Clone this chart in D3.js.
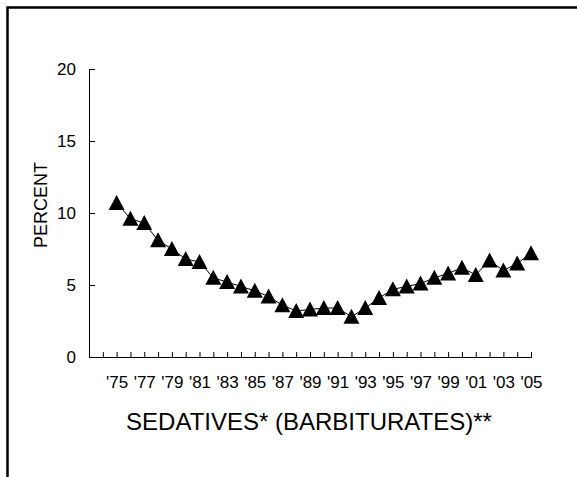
<!DOCTYPE html>
<html>
<head>
<meta charset="utf-8">
<script src="https://cdn.jsdelivr.net/npm/d3@7"></script>
<style>
  body { margin: 0; background: #fff; }
  text { font-family: "Liberation Sans", Arial, sans-serif; fill: #000; }
</style>
</head>
<body>
<div id="chart"></div>
<script>
// data: annual prevalence, sedatives (barbiturates)
const years = d3.range(1975, 2006)
const values = [10.7, 9.6, 9.3, 8.1, 7.5, 6.8, 6.6, 5.5, 5.2, 4.9, 4.6, 4.2, 3.6, 3.2, 3.3, 3.4,
                3.4, 2.8, 3.4, 4.1, 4.7, 4.9, 5.1, 5.5, 5.8, 6.2, 5.7, 6.7, 6.0, 6.5, 7.2]
const axisYears = d3.range(1973, 2006)
const labelYears = d3.range(1975, 2006, 2)
const yTicks = [0, 5, 10, 15, 20]
const title = 'SEDATIVES* (BARBITURATES)**'
const yTitle = 'PERCENT'

const data = years.map((y, i) => ({ year: y, value: values[i] }))

// dimensions
let dimensions = {
    width: 577,
    height: 477,
    margin: { top: 69, right: 46, bottom: 120, left: 89 },
}
dimensions.innerWidth = dimensions.width - dimensions.margin.left - dimensions.margin.right
dimensions.innerHeight = dimensions.height - dimensions.margin.top - dimensions.margin.bottom

const outer = d3.select('#chart')
    .append('svg')
        .attr('width', dimensions.width)
        .attr('height', dimensions.height)

// frame (only top and left edges fall inside the picture)
outer.append('rect')
    .attr('x', 7.5)
    .attr('y', 7.5)
    .attr('width', 620)
    .attr('height', 520)
    .attr('fill', 'none')
    .attr('stroke', '#000')
    .attr('stroke-width', 2.5)

const inner = outer.append('g')
    .attr('transform', `translate(${dimensions.margin.left}, ${dimensions.margin.top})`)

// scales
const xScale = d3.scaleLinear()
    .domain(d3.extent(axisYears))
    .range([0, dimensions.innerWidth])

const yScale = d3.scaleLinear()
    .domain([0, 20])
    .range([dimensions.innerHeight, 0])

// axes
const xAxis = d3.axisBottom(xScale)
    .tickValues(axisYears)
    .tickSize(-5)
    .tickPadding(19)
    .tickFormat(d => labelYears.includes(d) ? "'" + String(d).slice(2) : '')

const xAxisGroup = inner.append('g')
    .attr('transform', `translate(0, ${dimensions.innerHeight})`)
    .call(xAxis)
xAxisGroup.attr('font-size', null).attr('font-family', null)
xAxisGroup.selectAll('text')
    .style('font-size', '17px')
    .attr('fill', '#000')

const yAxis = d3.axisLeft(yScale)
    .tickValues(yTicks)
    .tickSize(-6)
    .tickPadding(13)

const yAxisGroup = inner.append('g')
    .call(yAxis)
yAxisGroup.attr('font-size', null).attr('font-family', null)
yAxisGroup.selectAll('text')
    .style('font-size', '17px')
    .attr('fill', '#000')

inner.selectAll('.domain, .tick line').attr('stroke', '#000').attr('stroke-width', 1)

// line
const lineGenerator = d3.line()
    .x(d => xScale(d.year))
    .y(d => yScale(d.value))

inner.append('path')
    .attr('d', lineGenerator(data))
    .attr('fill', 'none')
    .attr('stroke', '#000')
    .attr('stroke-width', 1)

// triangle markers (centred on their bounding box)
const half = 8
inner.selectAll('.marker')
    .data(data)
    .join('path')
        .attr('class', 'marker')
        .attr('d', d => {
            const cx = xScale(d.year), cy = yScale(d.value)
            return `M${cx},${cy - half}L${cx + half},${cy + half - 1}L${cx - half},${cy + half - 1}Z`
        })
        .attr('fill', '#000')

// titles
outer.append('text')
    .attr('x', 309)
    .attr('y', 430)
    .attr('text-anchor', 'middle')
    .style('font-size', '24px')
    .text(title)

outer.append('text')
    .attr('transform', 'translate(47, 205) rotate(-90)')
    .attr('text-anchor', 'middle')
    .style('font-size', '18px')
    .text(yTitle)
</script>
</body>
</html>
